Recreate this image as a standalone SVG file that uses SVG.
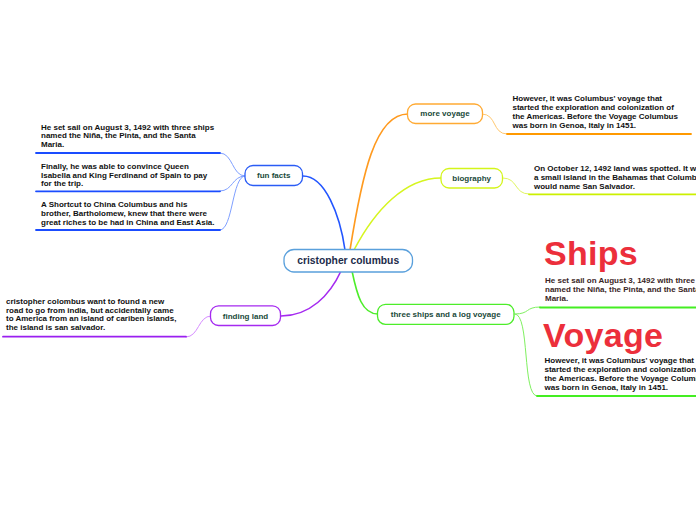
<svg xmlns="http://www.w3.org/2000/svg" width="696" height="520" viewBox="0 0 696 520">
<style>
.node{fill:#fff;stroke-width:1.3}
.lbl{font-family:"Liberation Sans",Arial,sans-serif;font-weight:bold;font-size:8px;fill:#1a4a3a;text-anchor:middle}
.main{font-family:"Liberation Sans",Arial,sans-serif;font-weight:bold;font-size:10.3px;fill:#1c2b4a;text-anchor:middle}
.body{font-family:"Liberation Sans",Arial,sans-serif;font-weight:bold;font-size:8px;fill:#111}
.big{font-family:"Liberation Sans",Arial,sans-serif;font-weight:bold;font-size:34px;fill:#ec2f3b;letter-spacing:0.3px}
.c{fill:none;stroke-linecap:round}
</style>
<rect width="696" height="520" fill="#fff"/>
<g id="connectors">
  <path class="c" d="M345,250 C340,215 325,176 303,176" stroke="#2255ff" stroke-width="1.6"/>
  <path class="c" d="M350,250 C362,175 375,114 408,114" stroke="#ff9a1f" stroke-width="1.6"/>
  <path class="c" d="M354,250 C375,210 405,178 441,178" stroke="#d6f51f" stroke-width="1.6"/>
  <path class="c" d="M341,271 C330,295 310,316 281,316" stroke="#a52af0" stroke-width="1.6"/>
  <path class="c" d="M352,271 C357,295 362,314 378,314" stroke="#4ded2a" stroke-width="1.6"/>
  <path class="c" d="M245,176 C232,176 233,153 220,153" stroke="#7fa0ff" stroke-width="1"/>
  <path class="c" d="M245,176 C232,176 233,191 220,191" stroke="#7fa0ff" stroke-width="1"/>
  <path class="c" d="M245,176 C232,176 233,230 220,230" stroke="#7fa0ff" stroke-width="1"/>
  <path class="c" d="M482,114 C497,114 492,134 507,134" stroke="#ffc870" stroke-width="1"/>
  <path class="c" d="M503,178 C518,178 514,194 529,194" stroke="#e0f560" stroke-width="1"/>
  <path class="c" d="M211,316 C198,316 199,337 186,337" stroke="#d68cff" stroke-width="1"/>
  <path class="c" d="M515,314 C530,314 525,307 540,307" stroke="#7ff060" stroke-width="1"/>
  <path class="c" d="M515,314 C530,314 522,396 537,396" stroke="#7ff060" stroke-width="1"/>
  <path class="c" d="M36,153 H220 M36,191.3 H220 M36,230 H220" stroke="#1a4cff" stroke-width="1.8"/>
  <path class="c" d="M507,134 H691" stroke="#ff9900" stroke-width="1.8"/>
  <path class="c" d="M529,194.3 H696" stroke="#ccf000" stroke-width="1.8"/>
  <path class="c" d="M3,336.7 H186" stroke="#9a1ff0" stroke-width="1.8"/>
  <path class="c" d="M540,307.5 H696 M537,396 H696" stroke="#44ee22" stroke-width="1.8"/>
</g>
<g id="center">
  <rect class="node" x="284" y="249.5" width="128.5" height="22.5" rx="10" stroke="#5aa0dc"/>
  <text class="main" x="348.2" y="264">cristopher columbus</text>
</g>
<g id="fun-facts">
  <rect class="node" x="245" y="165.5" width="57.5" height="20" rx="8" stroke="#2a5cf5"/>
  <text class="lbl" x="273.7" y="178">fun facts</text>
  <text class="body" x="41" y="129.5">He set sail on August 3, 1492 with three ships</text>
  <text class="body" x="41" y="138.3">named the Niña, the Pinta, and the Santa</text>
  <text class="body" x="41" y="147.1">Maria.</text>
  <text class="body" x="41" y="168.8">Finally, he was able to convince Queen</text>
  <text class="body" x="41" y="177.6">Isabella and King Ferdinand of Spain to pay</text>
  <text class="body" x="41" y="186.4">for the trip.</text>
  <text class="body" x="41" y="207">A Shortcut to China Columbus and his</text>
  <text class="body" x="41" y="215.8">brother, Bartholomew, knew that there were</text>
  <text class="body" x="41" y="224.6">great riches to be had in China and East Asia.</text>
</g>
<g id="more-voyage">
  <rect class="node" x="407.5" y="104" width="75" height="19.5" rx="8" stroke="#ffaa33"/>
  <text class="lbl" x="445" y="116.3">more voyage</text>
  <text class="body" x="512.5" y="101.3">However, it was Columbus' voyage that</text>
  <text class="body" x="512.5" y="110.1">started the exploration and colonization of</text>
  <text class="body" x="512.5" y="118.9">the Americas. Before the Voyage Columbus</text>
  <text class="body" x="512.5" y="127.7">was born in Genoa, Italy in 1451.</text>
</g>
<g id="biography">
  <rect class="node" x="441" y="168.5" width="61.5" height="19.5" rx="8" stroke="#d4f51a"/>
  <text class="lbl" x="471.7" y="180.8">biography</text>
  <text class="body" x="534" y="171.3">On October 12, 1492 land was spotted. It was</text>
  <text class="body" x="534" y="180.1">a small island in the Bahamas that Columbus</text>
  <text class="body" x="534" y="188.9">would name San Salvador.</text>
</g>
<g id="three-ships">
  <rect class="node" x="377.5" y="304.3" width="136.5" height="20" rx="8" stroke="#4ded2a"/>
  <text class="lbl" x="445.7" y="316.6">three ships and a log voyage</text>
</g>
<g id="ships">
  <text class="big" x="544" y="264.5">Ships</text>
  <text class="body" x="545" y="283" style="fill:#3a2626">He set sail on August 3, 1492 with three ships</text>
  <text class="body" x="545" y="291.8" style="fill:#3a2626">named the Niña, the Pinta, and the Santa</text>
  <text class="body" x="545" y="300.6" style="fill:#3a2626">Maria.</text>
</g>
<g id="voyage">
  <text class="big" x="543" y="346.5">Voyage</text>
  <text class="body" x="544.5" y="363.4">However, it was Columbus' voyage that</text>
  <text class="body" x="544.5" y="372.2">started the exploration and colonization of</text>
  <text class="body" x="544.5" y="381">the Americas. Before the Voyage Columbus</text>
  <text class="body" x="544.5" y="389.8">was born in Genoa, Italy in 1451.</text>
</g>
<g id="finding-land">
  <rect class="node" x="210.5" y="305.8" width="70" height="19.7" rx="8" stroke="#a52af0"/>
  <text class="lbl" x="245.5" y="318.5">finding land</text>
  <text class="body" x="6" y="303.7">cristopher colombus want to found a new</text>
  <text class="body" x="6" y="312.5">road to go from india, but accidentally came</text>
  <text class="body" x="6" y="321.3">to America from an island of cariben islands,</text>
  <text class="body" x="6" y="330.1">the island is san salvador.</text>
</g>
</svg>
